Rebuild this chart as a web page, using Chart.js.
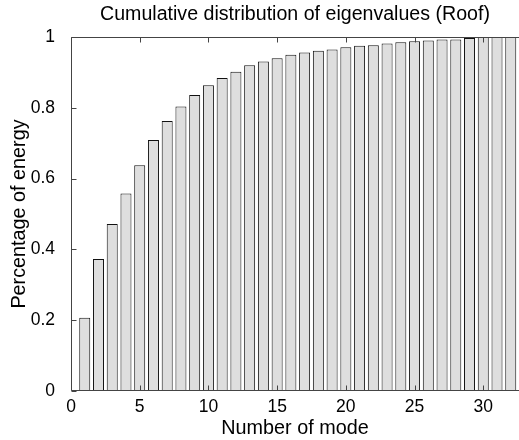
<!DOCTYPE html>
<html>
<head>
<meta charset="utf-8">
<script src="https://cdn.jsdelivr.net/npm/chart.js@4"></script>
<style>
	html, body { margin: 0; padding: 0; background: #fff; }
	canvas { display: block; }
</style>
</head>
<body>
<canvas id="myChart" width="519" height="440"></canvas>
<script>
// mode numbers and the cumulative share of energy for each one
var modes = [
	1, 2, 3, 4, 5, 6, 7, 8, 9, 10, 11, 12, 13, 14, 15, 16,
	17, 18, 19, 20, 21, 22, 23, 24, 25, 26, 27, 28, 29, 30, 31, 32,
];
var energy = [
	0.207, 0.373, 0.472, 0.558, 0.638, 0.709, 0.763, 0.804,
	0.836, 0.864, 0.884, 0.902, 0.920, 0.931, 0.940, 0.950,
	0.956, 0.961, 0.965, 0.971, 0.975, 0.977, 0.982, 0.985,
	0.988, 0.990, 0.993, 0.993, 0.997, 1.0, 1.0, 1.0,
];
var xTicks = [0, 5, 10, 15, 20, 25, 30];
var yTicks = [0, 0.2, 0.4, 0.6, 0.8, 1];

var font = "'Liberation Sans', Arial, Helvetica, sans-serif";

// box around the axes with short ticks pointing inwards
var axesBox = {
	id: "axesBox",
	afterDatasetsDraw(chart) {
		const ctx = chart.ctx;
		const a = chart.chartArea;
		const xs = chart.scales.x;
		const ys = chart.scales.y;
		const left = Math.round(a.left) + 0.5;
		const top = Math.round(a.top) + 0.5;
		const bottom = Math.round(a.bottom) - 0.5;
		ctx.save();
		ctx.strokeStyle = "#444";
		ctx.lineWidth = 1;
		ctx.beginPath();
		ctx.moveTo(a.right + 2, top);
		ctx.lineTo(left, top);
		ctx.lineTo(left, bottom);
		ctx.lineTo(a.right + 2, bottom);
		xTicks.forEach(function (v) {
			const px = Math.round(xs.getPixelForValue(v)) + 0.5;
			ctx.moveTo(px, bottom);
			ctx.lineTo(px, bottom - 5);
			ctx.moveTo(px, top);
			ctx.lineTo(px, top + 5);
		});
		yTicks.forEach(function (v) {
			const py = Math.round(ys.getPixelForValue(v)) + 0.5;
			ctx.moveTo(left, py);
			ctx.lineTo(left + 5, py);
		});
		ctx.stroke();
		ctx.restore();
	},
};

new Chart("myChart", {
	type: "bar",
	data: {
		datasets: [
			{
				data: modes.map(function (m, i) {
					return { x: m, y: energy[i] };
				}),
				backgroundColor: "#dedede",
				borderColor: "#111",
				borderWidth: 1,
				barPercentage: 0.8,
				categoryPercentage: 1,
			},
		],
	},
	options: {
		responsive: false,
		animation: false,
		layout: { padding: 0 },
		plugins: {
			legend: { display: false },
			tooltip: { enabled: false },
			title: {
				display: true,
				fullSize: false,
				text: "Cumulative distribution of eigenvalues (Roof)",
				color: "#000",
				font: { family: font, size: 19.6, weight: "normal" },
				padding: { top: 3, bottom: 10.5 },
			},
		},
		scales: {
			x: {
				type: "linear",
				offset: false,
				min: 0,
				max: 32.6,
				grid: { display: false },
				border: { display: false },
				afterBuildTicks(scale) {
					scale.ticks = xTicks.map(function (v) {
						return { value: v };
					});
				},
				afterFit(scale) {
					scale.height = 49;
				},
				ticks: {
					color: "#000",
					padding: -2,
					maxRotation: 0,
					font: { family: font, size: 17.5 },
				},
				title: {
					display: true,
					text: "Number of mode",
					color: "#000",
					font: { family: font, size: 19.8 },
					padding: { top: 0, bottom: 0 },
				},
			},
			y: {
				min: 0,
				max: 1,
				grid: { display: false },
				border: { display: false },
				afterBuildTicks(scale) {
					scale.ticks = yTicks.map(function (v) {
						return { value: v };
					});
				},
				afterFit(scale) {
					scale.width = 71;
				},
				ticks: {
					color: "#000",
					padding: 8,
					font: { family: font, size: 17.5 },
					callback: function (v) {
						return String(Math.round(v * 10) / 10);
					},
				},
				title: {
					display: true,
					text: "Percentage of energy",
					color: "#000",
					font: { family: font, size: 19.8 },
					padding: { top: 8, bottom: 0 },
				},
			},
		},
	},
	plugins: [axesBox],
});
</script>
</body>
</html>
